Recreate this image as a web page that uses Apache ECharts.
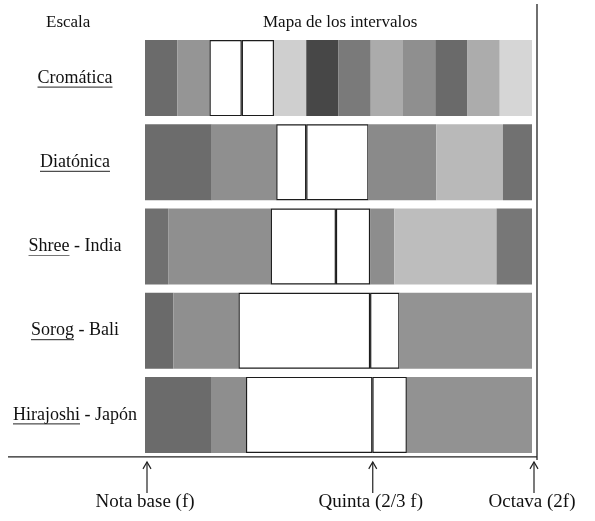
<!DOCTYPE html>
<html>
<head>
<meta charset="utf-8">
<title>Mapa de los intervalos</title>
<script src="https://cdn.jsdelivr.net/npm/echarts@6/dist/echarts.min.js"></script>
<style>
  html, body { margin: 0; padding: 0; background: #fff; }
  #chart { width: 595px; height: 521px; }
</style>
</head>
<body>
<div id="chart"></div>
<script>
// escalas, de arriba abajo
const scales = ['Cromática', 'Diatónica', 'Shree - India', 'Sorog - Bali', 'Hirajoshi - Japón']
// parte subrayada de cada nombre
const underlined = ['Cromática', 'Diatónica', 'Shree', 'Sorog', 'Hirajoshi']

// anchura de cada intervalo, en semitonos
const cromatica = [1, 1, 1, 1, 1, 1, 1, 1, 1, 1, 1, 1]
const diatonica = [2.07, 2.0, 0.93, 1.93, 2.1, 2.07, 0.9]
const shree = [0.72, 3.18, 2.02, 1.06, 0.75, 3.17, 1.1]
const sorog = [0.88, 2.02, 4.08, 0.91, 4.11]
const hirajoshi = [2.07, 1.06, 3.92, 1.07, 3.88]

// marcas del eje inferior (semitonos)
const markNotes = [0, 7, 12]
const markLabels = ['Nota base (f)', 'Quinta (2/3 f)', 'Octava (2f)']

// tonos de gris de cada tramo
const cromaticaShades = ['#6b6b6b', '#959595', '#ffffff', '#ffffff', '#cfcfcf', '#474747', '#7a7a7a', '#ababab', '#8f8f8f', '#6a6a6a', '#acacac', '#d6d6d6']
const diatonicaShades = ['#6c6c6c', '#8f8f8f', '#ffffff', '#ffffff', '#8a8a8a', '#b9b9b9', '#717171']
const shreeShades = ['#707070', '#8f8f8f', '#ffffff', '#ffffff', '#8d8d8d', '#bdbdbd', '#777777']
const sorogShades = ['#6a6a6a', '#8f8f8f', '#ffffff', '#ffffff', '#939393']
const hirajoshiShades = ['#6b6b6b', '#8e8e8e', '#ffffff', '#ffffff', '#929292']

const rows = [cromatica, diatonica, shree, sorog, hirajoshi]
const shades = [cromaticaShades, diatonicaShades, shreeShades, sorogShades, hirajoshiShades]

const FONT = '"Liberation Serif", "DejaVu Serif", serif'
const chart = echarts.init(document.getElementById('chart'), null, {renderer: 'canvas'})

const maxSteps = Math.max(...rows.map(r => r.length))
const series = []
for (let k = 0; k < maxSteps; k++) {
  series.push({
    type: 'bar',
    stack: 'octava',
    barWidth: 76,
    silent: true,
    data: rows.map((r, i) => {
      if (r[k] == null) return '-'
      const c = shades[i][k]
      const blank = c === '#ffffff'
      return {
        value: r[k],
        itemStyle: {
          color: c,
          borderColor: blank ? '#1c1c1c' : c,
          borderWidth: blank ? 1.2 : 0
        }
      }
    })
  })
}

const option = {
  animation: false,
  backgroundColor: '#fff',
  title: [
    {
      text: 'Escala',
      left: 41, top: 9,
      textStyle: {fontFamily: FONT, fontSize: 17, fontWeight: 'normal', color: '#111'}
    },
    {
      text: 'Mapa de los intervalos',
      left: 258, top: 9,
      textStyle: {fontFamily: FONT, fontSize: 17, fontWeight: 'normal', color: '#111'}
    }
  ],
  grid: {left: 145, right: 63, top: 36, bottom: 64},
  xAxis: {
    type: 'value',
    min: 0, max: 12, interval: 1,
    axisLine: {show: false},
    axisTick: {show: false},
    splitLine: {show: false},
    axisLabel: {
      margin: 36,
      showMinLabel: true, showMaxLabel: true,
      hideOverlap: false,
      fontFamily: FONT, fontSize: 19, color: '#111',
      formatter: v => {
        const i = markNotes.indexOf(v)
        return i < 0 ? '' : markLabels[i]
      }
    }
  },
  yAxis: {
    type: 'category',
    inverse: true,
    data: scales,
    axisLine: {show: false},
    axisTick: {show: false},
    axisLabel: {
      margin: 70, align: 'center',
      fontFamily: FONT, fontSize: 18, color: '#111'
    }
  },
  series: series
}
chart.setOption(option)

// subrayados, línea base, línea derecha y flechas
function decorate() {
  const ctx = document.createElement('canvas').getContext('2d')
  ctx.font = '18px ' + FONT
  const labelX = 145 - 70
  const g = []
  scales.forEach((s, i) => {
    const y = chart.convertToPixel({yAxisIndex: 0}, s)
    const full = ctx.measureText(s).width
    const part = ctx.measureText(underlined[i]).width
    const x0 = labelX - full / 2
    g.push({
      type: 'line', silent: true,
      shape: {x1: x0, y1: y + 9, x2: x0 + part, y2: y + 9},
      style: {stroke: i === 2 ? '#777' : '#222', lineWidth: 1}
    })
  })
  const base = chart.convertToPixel({yAxisIndex: 0}, scales[scales.length - 1]) + 42
  const right = chart.convertToPixel({xAxisIndex: 0}, 12) + 5
  g.push({
    type: 'line', silent: true,
    shape: {x1: 8, y1: base, x2: right, y2: base},
    style: {stroke: '#222', lineWidth: 1.3}
  })
  g.push({
    type: 'line', silent: true,
    shape: {x1: right, y1: 4, x2: right, y2: base + 3},
    style: {stroke: '#222', lineWidth: 1.3}
  })
  markNotes.forEach(v => {
    const x = chart.convertToPixel({xAxisIndex: 0}, v) + 2
    g.push({
      type: 'line', silent: true,
      shape: {x1: x, y1: base + 5, x2: x, y2: base + 36},
      style: {stroke: '#222', lineWidth: 1.2}
    })
    g.push({
      type: 'polyline', silent: true,
      shape: {points: [[x - 4, base + 12], [x, base + 5], [x + 4, base + 12]]},
      style: {stroke: '#222', lineWidth: 1.2, fill: null}
    })
  })
  chart.setOption({graphic: g})
}
decorate()
</script>
</body>
</html>
